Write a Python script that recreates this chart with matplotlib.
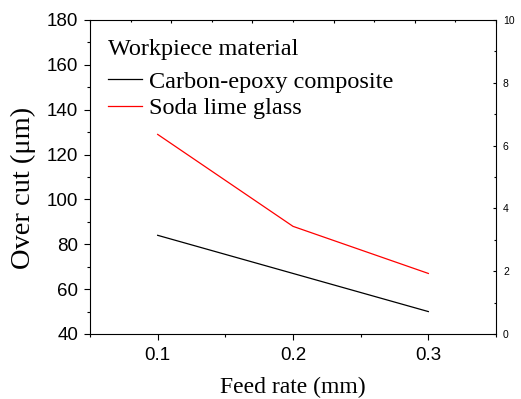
import matplotlib
matplotlib.use("Agg")
import matplotlib.pyplot as plt
from matplotlib.ticker import MultipleLocator

feed_rate = [0.1, 0.2, 0.3]
carbon_epoxy = [84, 67, 50]
soda_lime = [129, 88, 67]

plt.rcParams['font.family'] = 'Liberation Sans'
serif = 'Liberation Serif'

fig = plt.figure(figsize=(5.21, 3.99), dpi=100)
pos = [90 / 521, 65 / 399, 406 / 521, 314 / 399]
ax = fig.add_axes(pos)

ax.plot(feed_rate, carbon_epoxy, color='black', lw=0.9, label='Carbon-epoxy composite')
ax.plot(feed_rate, soda_lime, color='#ff0000', lw=0.9, label='Soda lime glass')

ax.set_xlim(0.05, 0.35)
ax.set_ylim(40, 180)
ax.xaxis.set_major_locator(MultipleLocator(0.1))
ax.xaxis.set_minor_locator(MultipleLocator(0.05))
ax.yaxis.set_major_locator(MultipleLocator(20))
ax.yaxis.set_minor_locator(MultipleLocator(10))
ax.tick_params(which='major', direction='out', length=4, width=0.8, labelsize=13.5)
ax.tick_params(axis='y', pad=4.5)
ax.tick_params(axis='x', pad=5)
ax.tick_params(which='minor', direction='out', length=2.2, width=0.8)
ax.tick_params(top=False, right=False, which='both')
for s in ax.spines.values():
    s.set_linewidth(0.8)

ax.set_xlabel('Feed rate (mm)', family=serif, fontsize=17, va='center')
ax.xaxis.set_label_coords(0.5, -0.169)
ax.set_ylabel('Over cut (\u03bcm)', family=serif, fontsize=20.5, va='center')
ax.yaxis.set_label_coords(-0.163, 0.465)

# legend title drawn as a plain text line above the entries
ax.text(0.044, 0.905, 'Workpiece material', transform=ax.transAxes,
        family=serif, fontsize=17.5, ha='left', va='center')
ax.legend(loc='upper left', frameon=False, prop={'family': serif, 'size': 17.5},
          handlelength=1.4, handletextpad=0.28, labelspacing=0.17,
          borderpad=0, borderaxespad=0, bbox_to_anchor=(0.044, 0.838))

# second layer: right axis 0-10 and top ticks
ax2 = fig.add_axes(pos, frameon=False)
ax2.patch.set_alpha(0)
ax2.set_xlim(0, 10)
ax2.set_ylim(0, 10)
ax2.xaxis.tick_top()
ax2.yaxis.tick_right()
ax2.xaxis.set_major_locator(MultipleLocator(2))
ax2.xaxis.set_minor_locator(MultipleLocator(1))
ax2.yaxis.set_major_locator(MultipleLocator(2))
ax2.yaxis.set_minor_locator(MultipleLocator(1))
ax2.tick_params(which='major', direction='in', length=2.5, width=0.8, labelsize=7.5, pad=5)
ax2.tick_params(which='minor', direction='in', length=1.6, width=0.8)
ax2.tick_params(axis='x', labeltop=False)

fig.savefig('out.png', dpi=100)
